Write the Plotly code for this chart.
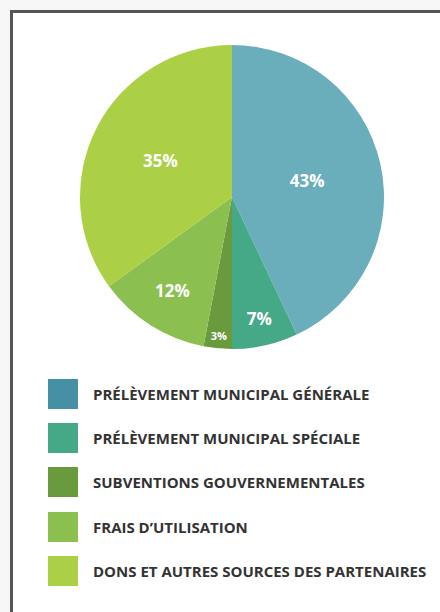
import plotly.graph_objects as go

categories = [
    "PRÉLÈVEMENT MUNICIPAL GÉNÉRALE",
    "PRÉLÈVEMENT MUNICIPAL SPÉCIALE",
    "SUBVENTIONS GOUVERNEMENTALES",
    "FRAIS D’UTILISATION",
    "DONS ET AUTRES SOURCES DES PARTENAIRES",
]
values = [43, 7, 3, 12, 35]
pie_colors = ["#6aaebb", "#45a886", "#6a9a3e", "#8bbf50", "#acd045"]
legend_colors = ["#4590a4", "#45a886", "#6a9a3e", "#8bbf50", "#acd045"]

W, H = 440, 612
fig = go.Figure()
fig.add_trace(go.Pie(
    labels=categories,
    values=values,
    sort=False,
    direction="clockwise",
    rotation=0,
    marker=dict(colors=pie_colors, line=dict(width=0)),
    texttemplate="%{value}%",
    textposition="inside",
    insidetextorientation="horizontal",
    textfont=dict(family="Open Sans", size=[17, 17, 11, 17, 17], color="white", weight=700),
    showlegend=False,
    hoverinfo="label+percent",
    domain=dict(x=[80 / W, 384 / W], y=[(H - 349) / H, (H - 45) / H]),
))

shapes = [dict(type="rect", xref="paper", yref="paper",
               x0=11.5 / W, x1=460 / W, y0=-0.05, y1=(H - 11.5) / H,
               line=dict(color="#555555", width=3), fillcolor="white", layer="below")]
annotations = []
centers = [394, 438, 482, 527, 571]
for cat, col, cy in zip(categories, legend_colors, centers):
    shapes.append(dict(type="rect", xref="paper", yref="paper",
                       x0=48 / W, x1=78 / W, y0=(H - cy - 15) / H, y1=(H - cy + 15) / H,
                       line=dict(width=0), fillcolor=col))
    annotations.append(dict(xref="paper", yref="paper", x=91 / W, y=(H - cy) / H,
                            xanchor="left", yanchor="middle", showarrow=False, text=cat,
                            font=dict(family="Open Sans", size=15, color="#333333", weight=700)))

fig.update_layout(
    width=W, height=H,
    margin=dict(l=0, r=0, t=0, b=0),
    paper_bgcolor="#f7f7f7",
    plot_bgcolor="white",
    shapes=shapes,
    annotations=annotations,
)
fig.write_html("out.html", config={"displayModeBar": False},
               post_script="document.body.style.margin='0';document.body.style.overflow='hidden';")
